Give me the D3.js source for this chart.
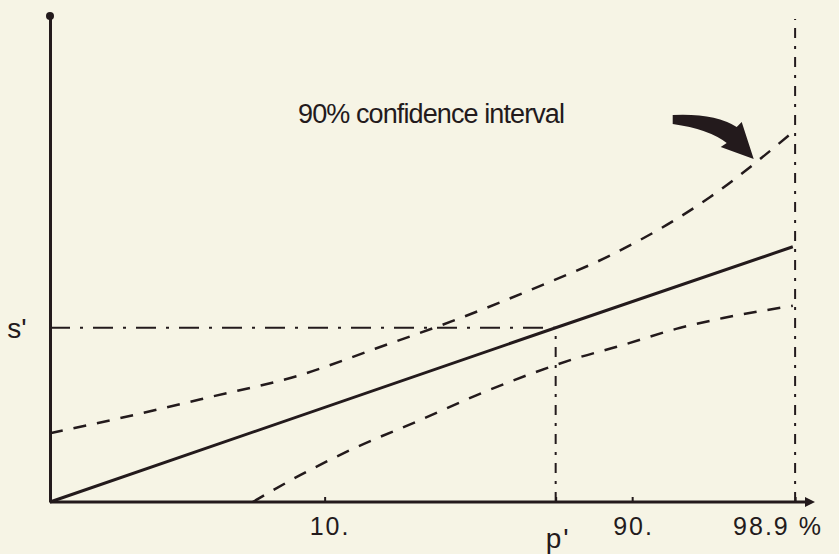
<!DOCTYPE html>
<html>
<head>
<meta charset="utf-8">
<script src="https://cdn.jsdelivr.net/npm/d3@7"></script>
<style>
  html, body { margin: 0; padding: 0; background: #f6f4e5; }
  svg { display: block; }
  text { font-family: 'Liberation Sans', 'DejaVu Sans', sans-serif; fill: #231a1c; }
</style>
</head>
<body>
<svg id="canvas"></svg>
<script>
// values in chart units (0..100 along each axis)
let tickNames = ['10.', 'p\'', '90.', '98.9 %']
let tickPos = [35.9, 66.1, 76.1, 97.4]

let sPrime = 35.7
let pPrime = 66.1
let rightLimit = 97.4

let fitX = [0, 66.1, 97.1]
let fitY = [0, 35.7, 52.3]

let upperX = [0, 9.2, 20.9, 32.7, 42.5, 52.3, 64.1, 73.6, 86.3, 97.1]
let upperY = [14.1, 17.2, 21.5, 26.0, 31.4, 36.9, 44.3, 50.8, 62.5, 75.8]

let lowerX = [26.5, 32.7, 39.6, 48.4, 55.8, 62.4, 69.3, 74.1, 82.4, 88.0, 97.1]
let lowerY = [0, 5.5, 10.9, 16.8, 21.9, 26.0, 29.7, 31.8, 35.7, 37.7, 40.2]

let width = 839
let height = 554
let ink = '#231a1c'

let svg = d3.select('#canvas')
    .attr('width', width)
    .attr('height', height)

let xScale = d3.scaleLinear().domain([0, 100]).range([50, 815])
let yScale = d3.scaleLinear().domain([0, 100]).range([502, 14])

let line = d3.line()
    .x(d => xScale(d[0]))
    .y(d => yScale(d[1]))

let curve = d3.line()
    .x(d => xScale(d[0]))
    .y(d => yScale(d[1]))
    .curve(d3.curveMonotoneX)

// axes
let xAxis = d3.axisBottom(xScale)
    .tickValues(tickPos)
    .tickSize(-5)
    .tickFormat('')

let gx = svg.append('g')
    .attr('transform', 'translate(0,' + yScale(0) + ')')
    .call(xAxis)
gx.select('.domain').attr('stroke', ink).attr('stroke-width', 3).attr('d', 'M' + xScale(0) + ',0H' + (xScale(100) - 6))
gx.selectAll('.tick line').attr('stroke', ink).attr('stroke-width', 2)

svg.append('path')
    .attr('d', 'M' + xScale(100) + ',' + yScale(0) + 'l-10,-5v10z')
    .attr('fill', ink)

let yAxis = d3.axisLeft(yScale).tickValues([]).tickSizeOuter(0)
let gy = svg.append('g')
    .attr('transform', 'translate(' + xScale(0) + ',0)')
    .call(yAxis)
gy.select('.domain').attr('stroke', ink).attr('stroke-width', 3)

svg.append('circle')
    .attr('cx', xScale(0))
    .attr('cy', yScale(100) + 2)
    .attr('r', 4)
    .attr('fill', ink)

// tick labels
let labelY = [535, 548, 535, 535]
let labelSize = [25, 28, 25, 25]
let labelDx = [-15, -10, -19, -62]
svg.selectAll('.xlabel')
    .data(tickNames)
    .enter()
    .append('text')
    .attr('class', 'xlabel')
    .attr('x', (d, i) => xScale(tickPos[i]) + labelDx[i])
    .attr('y', (d, i) => labelY[i])
    .attr('font-size', (d, i) => labelSize[i])
    .attr('letter-spacing', 2)
    .text(d => d)

svg.append('text')
    .attr('x', 17)
    .attr('y', yScale(sPrime) + 10)
    .attr('text-anchor', 'middle')
    .attr('font-size', 28)
    .text('s\'')

// reference lines (dash-dot)
svg.append('path')
    .attr('d', line([[0, sPrime], [pPrime, sPrime]]))
    .attr('stroke', ink)
    .attr('stroke-width', 2)
    .attr('stroke-dasharray', '20,10,3,10')
    .attr('fill', 'none')

svg.append('path')
    .attr('d', line([[pPrime, 0], [pPrime, sPrime]]))
    .attr('stroke', ink)
    .attr('stroke-width', 2)
    .attr('stroke-dasharray', '10,8,3,8')
    .attr('fill', 'none')

svg.append('path')
    .attr('d', line([[rightLimit, 0], [rightLimit, 99]]))
    .attr('stroke', ink)
    .attr('stroke-width', 2)
    .attr('stroke-dasharray', '10,8,3,8')
    .attr('fill', 'none')

// fitted line
svg.append('path')
    .attr('d', line(fitX.map((x, i) => [x, fitY[i]])))
    .attr('stroke', ink)
    .attr('stroke-width', 3)
    .attr('fill', 'none')

// confidence band
svg.append('path')
    .attr('d', curve(upperX.map((x, i) => [x, upperY[i]])))
    .attr('stroke', ink)
    .attr('stroke-width', 2.5)
    .attr('stroke-dasharray', '13,11')
    .attr('fill', 'none')

svg.append('path')
    .attr('d', curve(lowerX.map((x, i) => [x, lowerY[i]])))
    .attr('stroke', ink)
    .attr('stroke-width', 2.5)
    .attr('stroke-dasharray', '13,11')
    .attr('fill', 'none')

// annotation
svg.append('text')
    .attr('x', 298)
    .attr('y', 123)
    .attr('font-size', 27)
    .attr('textLength', 267)
    .attr('lengthAdjust', 'spacing')
    .text('90% confidence interval')

let ax = xScale(81.4), ay = yScale(79.3)
svg.append('path')
    .attr('d', 'M' + ax + ',' + ay +
        ' q42,-2 64,12 l5,-5 l12,37 l-33,-12 l6,-4 q-18,-14 -54,-19 z')
    .attr('fill', ink)
</script>
</body>
</html>
